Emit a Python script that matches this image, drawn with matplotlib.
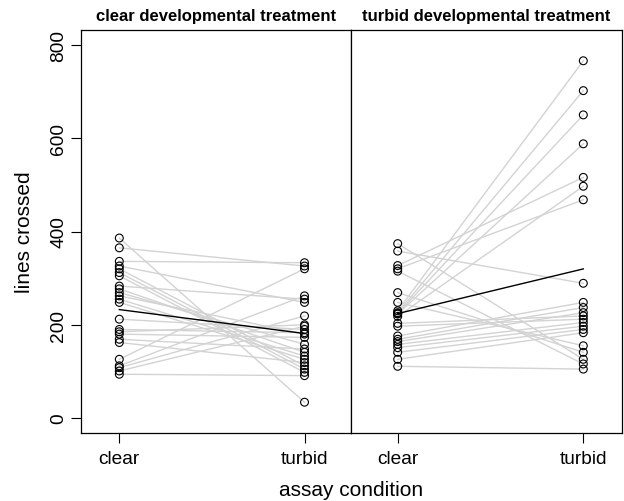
import matplotlib
matplotlib.use("Agg")
import matplotlib.pyplot as plt
import numpy as np

plt.rcParams['font.family'] = ['Liberation Sans', 'DejaVu Sans']

# paired values: each clear value is joined to the turbid value at the same index
clear_dev_clear = [386, 365, 336, 326, 320, 312, 305, 283, 277, 269, 262, 255,
                   248, 212, 190, 185, 180, 169, 162, 126, 112, 108, 101, 94]
clear_dev_turbid = [34, 326, 333, 248, 112, 105, 98, 255, 141, 158, 180, 133,
                    126, 190, 183, 200, 173, 148, 119, 320, 262, 219, 197, 91]

turbid_dev_clear = [374, 358, 327, 320, 315, 269, 248, 230, 226, 224, 223,
                    218, 203, 197, 176, 169, 164, 158, 151, 141, 126, 111]
turbid_dev_turbid = [126, 289, 516, 468, 116, 141, 155, 766, 702, 650, 588,
                     497, 219, 212, 248, 237, 226, 205, 197, 190, 183, 105]

conditions = ["clear", "turbid"]
titles = ["clear developmental treatment", "turbid developmental treatment"]
panels = [(clear_dev_clear, clear_dev_turbid), (turbid_dev_clear, turbid_dev_turbid)]

W, H = 624, 502
fig = plt.figure(figsize=(W / 100, H / 100), dpi=100)

# axes boxes in pixels: left, right edges
boxes = [(80.5, 351), (351, 622)]
xlims = [(-0.2095, 1.251), (-0.2516, 1.2085)]
top, bottom = 31, 434

for i, ((x0, x1), (cl, tb)) in enumerate(zip(boxes, panels)):
    ax = fig.add_axes([x0 / W, (H - bottom) / H, (x1 - x0) / W, (bottom - top) / H])
    for a, b in zip(cl, tb):
        ax.plot([0, 1], [a, b], color='#d3d3d3', lw=1.0, zorder=1)
    ax.plot([0, 1], [np.mean(cl), np.mean(tb)], color='black', lw=1.0, zorder=2)
    ax.scatter(np.zeros(len(cl)), cl, s=32, facecolors='none', edgecolors='black',
               linewidths=0.8, zorder=3)
    ax.scatter(np.ones(len(tb)), tb, s=32, facecolors='none', edgecolors='black',
               linewidths=0.8, zorder=3)
    ax.set_xlim(*xlims[i])
    ax.set_ylim(-32, 832)
    ax.set_xticks([0, 1])
    ax.set_xticklabels(conditions, fontsize=13.8)
    ax.tick_params(axis='x', direction='out', length=7.5, width=0.8, pad=5)
    for s in ax.spines.values():
        s.set_linewidth(0.9)
    if i == 0:
        ax.set_yticks([0, 200, 400, 600, 800])
        ax.tick_params(axis='y', direction='out', length=7.5, width=0.8, pad=2)
        for lab in ax.get_yticklabels():
            lab.set_rotation(90)
            lab.set_va('center')
            lab.set_fontsize(13.8)
    else:
        ax.set_yticks([])
    fig.text((x0 + x1) / 2 / W, 1 - 16.7 / H, titles[i], ha='center', va='center',
             fontsize=12, fontweight='bold')

fig.text(25 / W, 1 - 232.5 / H, "lines crossed", rotation=90, ha='center', va='center',
         fontsize=15)
fig.text(351 / W, 1 - 491 / H, "assay condition", ha='center', va='center', fontsize=15)

fig.savefig("out.png", dpi=100)
